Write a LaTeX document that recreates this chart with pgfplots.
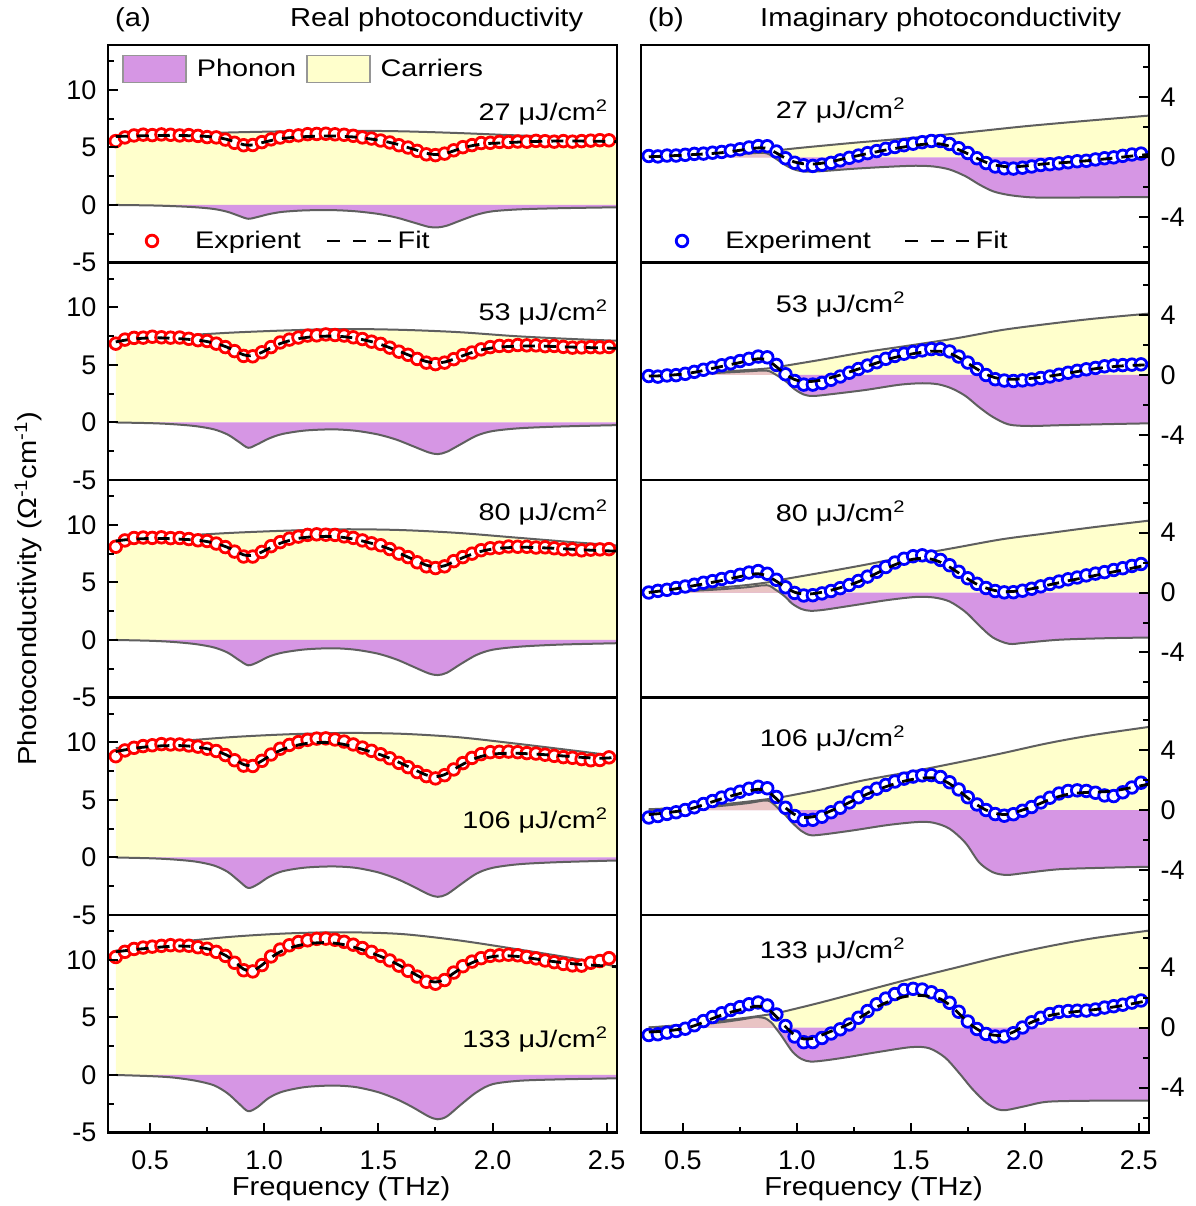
\documentclass[border=0pt]{standalone}
\usepackage{fontspec}
\setmainfont{Liberation Sans}
\newfontfamily\labfam{Liberation Sans}[FakeStretch=1.12]
\newfontfamily\annfam{Liberation Sans}[FakeStretch=1.2]
\usepackage{pgfplots}
\usepackage{pgfplotstable}
\pgfplotsset{compat=1.18}

\definecolor{purp}{RGB}{214,150,228}
\definecolor{yel}{RGB}{255,255,204}
\definecolor{pinkc}{RGB}{233,196,196}
\definecolor{lgray}{RGB}{95,95,95}
\definecolor{leggray}{RGB}{150,150,150}

\newcommand{\tickfont}{\fontsize{27}{30}\selectfont}
\newcommand{\labfont}{\labfam\fontsize{26}{30}\selectfont}
\newcommand{\annfont}{\annfam\fontsize{24}{27}\selectfont}

% ---------- left column (real part) ----------
\pgfplotstableread{
x y
0.35 5.95
0.60 6.15
0.85 6.30
1.10 6.40
1.35 6.45
1.60 6.40
1.85 6.25
2.10 6.05
2.35 5.85
2.55 5.70
}\LCa
\pgfplotstableread{
x y
0.35 7.20
0.60 7.50
0.85 7.80
1.10 8.00
1.35 8.12
1.60 8.05
1.85 7.85
2.10 7.50
2.35 7.25
2.55 7.10
}\LCb
\pgfplotstableread{
x y
0.35 8.60
0.60 9.00
0.85 9.30
1.10 9.50
1.35 9.62
1.60 9.55
1.85 9.30
2.10 8.90
2.35 8.50
2.55 8.20
}\LCc
\pgfplotstableread{
x y
0.35 9.50
0.60 10.05
0.85 10.45
1.10 10.70
1.35 10.82
1.60 10.75
1.85 10.45
2.10 9.90
2.35 9.30
2.55 8.80
}\LCd
\pgfplotstableread{
x y
0.35 10.80
0.60 11.50
0.85 12.00
1.10 12.30
1.35 12.40
1.60 12.25
1.85 11.70
2.10 10.95
2.35 10.15
2.55 9.40
}\LCe

\pgfplotstableread{
x a b c d e
0.35 0 0 0 0 0
0.50 -0.04 -0.06 -0.07 -0.07 -0.10
0.60 -0.10 -0.15 -0.17 -0.17 -0.22
0.70 -0.20 -0.32 -0.36 -0.36 -0.50
0.78 -0.35 -0.60 -0.65 -0.70 -0.90
0.84 -0.60 -1.05 -1.10 -1.25 -1.60
0.89 -0.95 -1.70 -1.75 -2.05 -2.50
0.93 -1.20 -2.20 -2.20 -2.65 -3.15
0.97 -1.05 -1.90 -1.95 -2.35 -2.80
1.02 -0.80 -1.40 -1.45 -1.70 -2.00
1.08 -0.60 -1.00 -1.10 -1.20 -1.45
1.18 -0.47 -0.70 -0.82 -0.88 -1.05
1.30 -0.45 -0.60 -0.72 -0.78 -0.92
1.40 -0.55 -0.72 -0.85 -0.90 -1.05
1.50 -0.78 -1.05 -1.20 -1.30 -1.50
1.58 -1.10 -1.50 -1.70 -1.85 -2.10
1.65 -1.50 -2.05 -2.30 -2.50 -2.80
1.72 -1.90 -2.60 -2.90 -3.20 -3.60
1.76 -1.95 -2.75 -3.05 -3.42 -3.85
1.80 -1.80 -2.55 -2.85 -3.20 -3.60
1.86 -1.35 -1.90 -2.10 -2.35 -2.60
1.93 -0.85 -1.15 -1.30 -1.40 -1.50
2.00 -0.55 -0.75 -0.85 -0.90 -0.80
2.12 -0.38 -0.50 -0.58 -0.58 -0.50
2.30 -0.28 -0.35 -0.40 -0.40 -0.38
2.55 -0.20 -0.23 -0.28 -0.26 -0.29
}\LP

\pgfplotstableread{
x Fa Ea Fb Eb Fc Ec Fd Ed Fe Ee
0.35 5.95 5.55 7.00 6.85 8.60 8.10 9.20 8.80 10.70 10.25
0.39 5.97 5.87 7.15 7.20 8.70 8.65 9.35 9.30 10.80 10.70
0.43 5.99 6.04 7.25 7.35 8.76 8.86 9.48 9.53 10.90 10.95
0.47 6.01 6.11 7.32 7.37 8.80 8.90 9.58 9.68 10.97 11.07
0.51 6.02 6.07 7.35 7.45 8.82 8.87 9.65 9.75 11.05 11.15
0.55 6.03 6.13 7.35 7.40 8.82 8.92 9.70 9.85 11.12 11.22
0.59 6.05 6.10 7.32 7.37 8.80 8.85 9.72 9.82 11.18 11.28
0.63 6.04 6.04 7.28 7.38 8.76 8.86 9.72 9.82 11.20 11.25
0.67 6.02 6.07 7.22 7.27 8.72 8.77 9.68 9.73 11.18 11.23
0.71 6.00 6.00 7.15 7.15 8.66 8.66 9.58 9.63 11.10 11.10
0.75 5.95 5.90 7.03 7.08 8.55 8.60 9.45 9.45 10.97 10.97
0.79 5.87 5.87 6.85 6.85 8.38 8.38 9.25 9.25 10.75 10.70
0.83 5.73 5.68 6.60 6.55 8.12 8.07 8.95 8.90 10.40 10.35
0.87 5.50 5.40 6.25 6.20 7.78 7.68 8.55 8.45 9.85 9.75
0.91 5.24 5.19 5.88 5.78 7.40 7.25 8.08 7.98 9.20 9.10
0.95 5.21 5.21 5.80 5.75 7.35 7.25 8.00 7.95 9.05 9.00
0.99 5.41 5.46 6.10 6.10 7.65 7.65 8.40 8.40 9.55 9.55
1.03 5.60 5.70 6.50 6.55 8.05 8.15 8.90 8.95 10.20 10.30
1.07 5.76 5.86 6.85 6.95 8.40 8.50 9.30 9.45 10.70 10.90
1.11 5.84 5.99 7.10 7.20 8.65 8.80 9.58 9.78 11.02 11.27
1.15 5.90 6.05 7.28 7.38 8.83 8.98 9.78 10.03 11.25 11.55
1.19 5.95 6.15 7.40 7.55 8.93 9.13 9.92 10.22 11.40 11.70
1.23 5.97 6.17 7.47 7.57 8.98 9.18 9.98 10.33 11.48 11.83
1.27 5.99 6.19 7.50 7.65 9.00 9.15 10.00 10.35 11.50 11.85
1.31 5.99 6.14 7.50 7.60 8.98 9.13 9.95 10.25 11.45 11.75
1.35 5.95 6.10 7.45 7.55 8.90 9.00 9.82 10.07 11.32 11.57
1.39 5.91 6.01 7.35 7.40 8.77 8.87 9.62 9.82 11.12 11.32
1.43 5.82 5.87 7.20 7.25 8.60 8.65 9.40 9.55 10.88 11.03
1.47 5.72 5.77 7.02 7.02 8.40 8.40 9.17 9.27 10.60 10.70
1.51 5.60 5.60 6.78 6.83 8.18 8.23 8.92 8.97 10.30 10.35
1.55 5.43 5.43 6.50 6.50 7.90 7.90 8.62 8.62 9.95 9.95
1.59 5.24 5.19 6.20 6.15 7.55 7.50 8.27 8.22 9.55 9.50
1.63 4.99 4.99 5.88 5.88 7.20 7.20 7.90 7.85 9.10 9.05
1.67 4.75 4.70 5.57 5.52 6.85 6.75 7.52 7.42 8.65 8.55
1.71 4.50 4.40 5.30 5.20 6.50 6.40 7.17 7.07 8.25 8.10
1.75 4.38 4.33 5.17 5.07 6.35 6.25 7.02 6.87 8.08 7.93
1.79 4.46 4.46 5.25 5.20 6.45 6.40 7.20 7.15 8.30 8.25
1.83 4.70 4.75 5.50 5.50 6.80 6.85 7.65 7.65 8.85 8.90
1.87 4.97 5.02 5.80 5.85 7.15 7.20 8.10 8.20 9.35 9.45
1.91 5.15 5.20 6.08 6.08 7.45 7.50 8.50 8.65 9.75 9.85
1.95 5.28 5.38 6.30 6.35 7.70 7.80 8.78 8.98 10.05 10.15
1.99 5.35 5.40 6.45 6.55 7.87 7.97 8.95 9.15 10.25 10.35
2.03 5.38 5.48 6.55 6.65 7.97 8.02 9.03 9.18 10.35 10.40
2.07 5.42 5.47 6.60 6.65 8.02 8.12 9.05 9.20 10.35 10.45
2.11 5.46 5.51 6.63 6.73 8.05 8.10 9.05 9.15 10.30 10.40
2.15 5.50 5.50 6.65 6.70 8.05 8.10 9.02 9.07 10.20 10.25
2.19 5.52 5.57 6.65 6.70 8.03 8.03 8.98 9.03 10.08 10.13
2.23 5.54 5.54 6.63 6.63 8.00 8.05 8.93 8.93 9.95 9.95
2.27 5.55 5.50 6.60 6.65 7.97 7.97 8.88 8.83 9.85 9.80
2.31 5.55 5.55 6.57 6.57 7.93 7.88 8.82 8.72 9.75 9.65
2.35 5.55 5.50 6.55 6.50 7.88 7.88 8.76 8.66 9.67 9.52
2.39 5.55 5.55 6.52 6.52 7.84 7.79 8.70 8.55 9.60 9.50
2.43 5.54 5.59 6.50 6.55 7.80 7.85 8.65 8.45 9.55 9.75
2.47 5.53 5.63 6.48 6.53 7.77 7.87 8.62 8.47 9.50 9.90
2.51 5.52 5.62 6.46 6.56 7.74 7.89 8.65 8.70 9.45 10.15
2.55 5.50 5.65 6.45 6.55 7.72 7.92 8.75 9.20 9.40 10.50
}\LF

% ---------- right column (imaginary part) ----------
\pgfplotstableread{
x y
0.35 0.00
0.50 0.10
0.70 0.24
0.85 0.37
1.00 0.62
1.25 0.98
1.50 1.30
1.75 1.68
2.00 2.08
2.25 2.42
2.55 2.80
}\RCa
\pgfplotstableread{
x y
0.35 0.00
0.55 0.12
0.75 0.30
0.88 0.45
0.95 0.62
1.10 1.00
1.30 1.53
1.50 1.98
1.70 2.45
1.90 3.00
2.10 3.40
2.30 3.75
2.55 4.10
}\RCb
\pgfplotstableread{
x y
0.35 0.00
0.55 0.20
0.75 0.45
0.87 0.67
0.93 0.85
1.10 1.30
1.30 1.85
1.50 2.45
1.70 3.00
1.90 3.55
2.10 3.95
2.30 4.35
2.55 4.80
}\RCc
\pgfplotstableread{
x y
0.35 0.05
0.55 0.20
0.75 0.50
0.87 0.72
0.93 0.85
1.10 1.35
1.30 2.00
1.50 2.55
1.70 3.15
1.90 3.78
2.10 4.45
2.30 5.00
2.55 5.55
}\RCd
\pgfplotstableread{
x y
0.35 0.00
0.55 0.25
0.75 0.60
0.87 0.85
0.93 1.02
1.10 1.65
1.30 2.45
1.50 3.25
1.70 4.00
1.90 4.75
2.10 5.40
2.30 5.95
2.55 6.47
}\RCe

\pgfplotstableread{
x y
0.35 0.00
0.50 0.06
0.65 0.14
0.75 0.22
0.82 0.30
0.86 0.30
0.88 0.20
0.90 0.00
0.92 -0.20
0.96 -0.60
1.00 -0.85
1.05 -0.95
1.12 -0.90
1.25 -0.75
1.40 -0.62
1.52 -0.55
1.60 -0.60
1.67 -0.80
1.74 -1.25
1.80 -1.80
1.86 -2.25
1.93 -2.50
2.02 -2.65
2.12 -2.68
2.30 -2.66
2.55 -2.64
}\RPa
\pgfplotstableread{
x y
0.35 0.00
0.50 0.05
0.65 0.14
0.78 0.24
0.85 0.30
0.88 0.25
0.91 0.00
0.95 -0.40
0.99 -0.95
1.03 -1.30
1.07 -1.40
1.15 -1.28
1.30 -1.00
1.45 -0.65
1.55 -0.55
1.62 -0.62
1.68 -0.90
1.74 -1.40
1.80 -2.15
1.86 -2.80
1.93 -3.30
2.02 -3.40
2.15 -3.35
2.35 -3.28
2.55 -3.22
}\RPb
\pgfplotstableread{
x y
0.35 0.00
0.50 0.08
0.65 0.20
0.78 0.35
0.85 0.48
0.88 0.45
0.905 0.20
0.925 0.00
0.95 -0.30
0.98 -0.75
1.02 -1.10
1.06 -1.22
1.12 -1.15
1.25 -0.85
1.40 -0.50
1.52 -0.30
1.60 -0.33
1.67 -0.60
1.74 -1.30
1.80 -2.20
1.86 -3.00
1.93 -3.42
2.00 -3.35
2.15 -3.15
2.35 -3.05
2.55 -3.00
}\RPc
\pgfplotstableread{
x y
0.35 0.00
0.50 0.10
0.65 0.25
0.78 0.45
0.85 0.62
0.88 0.60
0.905 0.30
0.925 0.00
0.95 -0.35
0.98 -0.85
1.02 -1.40
1.06 -1.68
1.12 -1.62
1.25 -1.35
1.40 -1.00
1.53 -0.80
1.60 -0.85
1.67 -1.25
1.74 -2.20
1.80 -3.50
1.86 -4.15
1.92 -4.33
2.00 -4.20
2.15 -3.95
2.35 -3.85
2.55 -3.78
}\RPd
\pgfplotstableread{
x y
0.35 0.00
0.50 0.12
0.65 0.32
0.75 0.52
0.82 0.69
0.86 0.62
0.89 0.30
0.905 0.00
0.93 -0.50
0.98 -1.60
1.02 -2.10
1.06 -2.27
1.12 -2.20
1.22 -1.98
1.35 -1.65
1.50 -1.31
1.58 -1.38
1.65 -2.00
1.71 -3.00
1.77 -4.10
1.83 -5.00
1.88 -5.45
1.92 -5.50
2.00 -5.25
2.10 -4.95
2.30 -4.88
2.55 -4.87
}\RPe

\pgfplotstableread{
x Fa Ea Fb Eb Fc Ec Fd Ed Fe Ee
0.35 0.05 0.10 -0.07 -0.07 0.00 0.00 -0.30 -0.50 -0.30 -0.50
0.39 0.07 0.07 -0.06 -0.11 0.08 0.11 -0.25 -0.40 -0.27 -0.45
0.43 0.10 0.13 -0.03 -0.03 0.16 0.18 -0.18 -0.26 -0.22 -0.34
0.47 0.13 0.13 0.02 -0.01 0.25 0.30 -0.10 -0.15 -0.15 -0.23
0.51 0.16 0.18 0.08 0.08 0.35 0.40 0.00 0.00 -0.05 -0.08
0.55 0.20 0.24 0.18 0.21 0.46 0.52 0.15 0.18 0.12 0.15
0.59 0.23 0.26 0.30 0.35 0.57 0.65 0.35 0.40 0.35 0.43
0.63 0.27 0.32 0.44 0.49 0.68 0.76 0.55 0.60 0.60 0.70
0.67 0.32 0.37 0.57 0.65 0.80 0.90 0.75 0.83 0.83 0.95
0.71 0.40 0.46 0.70 0.78 0.93 1.03 0.93 1.03 1.02 1.17
0.75 0.48 0.55 0.83 0.93 1.06 1.18 1.10 1.22 1.18 1.36
0.79 0.57 0.67 0.96 1.08 1.18 1.33 1.27 1.42 1.33 1.55
0.83 0.64 0.76 1.08 1.23 1.25 1.43 1.38 1.55 1.42 1.67
0.87 0.60 0.75 1.00 1.18 1.10 1.25 1.25 1.45 1.25 1.47
0.91 0.30 0.40 0.55 0.67 0.75 0.85 0.75 0.87 0.72 0.87
0.95 -0.05 -0.05 0.05 0.05 0.35 0.35 0.15 0.15 0.05 0.10
0.99 -0.30 -0.35 -0.30 -0.40 0.02 -0.03 -0.30 -0.40 -0.50 -0.60
1.03 -0.42 -0.52 -0.44 -0.64 -0.10 -0.20 -0.50 -0.67 -0.76 -0.98
1.07 -0.44 -0.56 -0.42 -0.64 -0.08 -0.18 -0.45 -0.65 -0.72 -0.97
1.11 -0.38 -0.48 -0.33 -0.53 0.02 -0.06 -0.30 -0.45 -0.50 -0.70
1.15 -0.28 -0.36 -0.17 -0.32 0.15 0.10 -0.05 -0.15 -0.25 -0.40
1.19 -0.14 -0.19 0.00 -0.10 0.32 0.29 0.20 0.15 -0.02 -0.12
1.23 0.00 -0.02 0.20 0.15 0.50 0.50 0.50 0.50 0.25 0.20
1.27 0.13 0.13 0.40 0.40 0.72 0.77 0.80 0.85 0.60 0.65
1.31 0.26 0.29 0.60 0.63 0.98 1.06 1.07 1.15 0.98 1.10
1.35 0.38 0.43 0.80 0.85 1.28 1.38 1.32 1.42 1.35 1.55
1.39 0.50 0.58 1.00 1.08 1.58 1.70 1.55 1.67 1.65 1.93
1.43 0.60 0.70 1.17 1.27 1.85 2.00 1.75 1.90 1.88 2.23
1.47 0.70 0.82 1.30 1.42 2.07 2.25 1.92 2.09 2.05 2.50
1.51 0.80 0.92 1.42 1.54 2.22 2.42 2.05 2.23 2.13 2.58
1.55 0.87 1.02 1.52 1.64 2.28 2.48 2.13 2.31 2.13 2.53
1.59 0.92 1.10 1.58 1.73 2.22 2.40 2.15 2.33 2.05 2.35
1.63 0.90 1.10 1.58 1.73 2.02 2.17 2.05 2.20 1.90 2.10
1.67 0.75 0.90 1.45 1.57 1.70 1.82 1.75 1.85 1.50 1.65
1.71 0.52 0.62 1.15 1.23 1.30 1.38 1.30 1.37 0.95 1.05
1.75 0.25 0.30 0.78 0.83 0.90 0.95 0.80 0.85 0.35 0.40
1.79 -0.05 -0.05 0.40 0.40 0.55 0.58 0.35 0.37 -0.10 -0.10
1.83 -0.32 -0.37 0.05 0.00 0.30 0.30 0.00 0.00 -0.40 -0.43
1.87 -0.50 -0.60 -0.18 -0.28 0.13 0.10 -0.22 -0.27 -0.52 -0.60
1.91 -0.60 -0.72 -0.27 -0.37 0.06 0.01 -0.30 -0.38 -0.50 -0.60
1.95 -0.62 -0.74 -0.28 -0.40 0.07 0.02 -0.20 -0.28 -0.30 -0.38
1.99 -0.58 -0.68 -0.26 -0.36 0.15 0.12 0.00 -0.05 0.05 0.00
2.03 -0.52 -0.60 -0.22 -0.30 0.25 0.25 0.20 0.20 0.35 0.35
2.07 -0.45 -0.50 -0.15 -0.20 0.38 0.41 0.45 0.50 0.60 0.65
2.11 -0.40 -0.45 -0.07 -0.10 0.52 0.57 0.70 0.82 0.80 0.90
2.15 -0.36 -0.39 0.02 0.02 0.65 0.73 0.90 1.10 0.92 1.04
2.19 -0.32 -0.32 0.12 0.15 0.78 0.88 1.05 1.27 1.00 1.10
2.23 -0.27 -0.25 0.23 0.28 0.90 1.00 1.13 1.31 1.07 1.12
2.27 -0.22 -0.22 0.33 0.38 1.02 1.14 1.17 1.27 1.13 1.13
2.31 -0.16 -0.13 0.42 0.47 1.14 1.26 1.20 1.15 1.20 1.20
2.35 -0.10 -0.05 0.50 0.58 1.26 1.36 1.22 0.97 1.28 1.33
2.39 -0.04 0.01 0.56 0.64 1.38 1.50 1.28 0.93 1.37 1.42
2.43 0.03 0.11 0.61 0.66 1.50 1.62 1.38 1.18 1.47 1.52
2.47 0.10 0.20 0.64 0.69 1.62 1.77 1.50 1.50 1.58 1.66
2.51 0.16 0.26 0.66 0.71 1.75 1.90 1.62 1.82 1.70 1.80
2.55 0.20 0.32 0.67 0.72 1.88 2.08 1.75 2.10 1.82 1.97
}\RF

\pgfplotsset{
  panel/.style={
    scale only axis, height=217.5pt, xmin=0.316, xmax=2.545,
    axis on top, clip marker paths=true,
    axis line style={line width=2.6pt},
    every tick/.style={black, line width=2pt},
    tick align=inside, major tick length=10pt, minor tick length=6pt,
    xtick=\empty,
    tick label style={font=\tickfont},
  },
  lcol/.style={panel, width=509pt, ymin=-5, ymax=13.9,
    ytick={-5,0,5,10}, yticklabels={-5,0,5,10},
    minor ytick={-2.5,2.5,7.5,12.5}, ytick pos=left,
    yticklabel style={xshift=-8pt}},
  rcol/.style={panel, width=508pt, ymin=-7, ymax=7.5,
    ytick={-4,0,4}, yticklabels={-4,0,4},
    minor ytick={-6,-2,2,6}, ytick pos=right, yticklabel pos=right,
    yticklabel style={xshift=8pt}},
  brow/.style={xtick={0.5,1,1.5,2,2.5}, xticklabels={0.5,1.0,1.5,2.0,2.5},
    minor xtick={0.75,1.25,1.75,2.25}, xtick pos=bottom,
    xticklabel style={yshift=-15pt},
    xlabel={Frequency (THz)},
    xlabel style={font=\labfont, at={(axis description cs:0.458,0)}, anchor=center, yshift=-56pt}},
  carfill/.style={fill=yel, draw=none, smooth, forget plot},
  phofill/.style={fill=purp, draw=none, smooth, forget plot},
  grayline/.style={lgray, line width=2pt, smooth, forget plot},
  fitline/.style={black, line width=2.8pt, dash pattern=on 12pt off 9pt, smooth, forget plot},
  expmark/.style={only marks, mark=*, mark size=5.8pt,
    mark options={draw=#1, fill=white, line width=2.8pt, solid}, forget plot},
  legaxis/.style={scale only axis, height=217.5pt, hide axis,
    xmin=0, xmax=1, ymin=0, ymax=1, anchor=north west},
  boxleg/.style={legend image code/.code={\draw[##1] (0pt,-13.5pt) rectangle (63pt,13.5pt); \path (73pt,0pt);}},
  circleg/.style={legend image code/.code={\draw[##1] plot coordinates {(0pt,0pt)}; \path (43pt,0pt);}},
  dashleg/.style={legend image code/.code={\draw[##1] (0pt,0pt) -- (64pt,0pt); \path (69pt,0pt);}},
}

% args: top y, carrier table, phonon column, fit/exp suffix, label, label rel y, extra options
\newcommand{\lpanel}[7]{%
  \begin{axis}[lcol, at={(108pt,#1)}, anchor=north west, #7]
    \addplot[carfill] table {#2} \closedcycle;
    \addplot[phofill] table[x=x, y=#3] {\LP} \closedcycle;
    \addplot[grayline] table {#2};
    \addplot[grayline] table[x=x, y=#3] {\LP};
    \addplot[expmark=red] table[x=x, y=E#4] {\LF};
    \addplot[fitline] table[x=x, y=F#4] {\LF};
    \node[anchor=east, inner sep=0pt, font=\annfont] at (rel axis cs:0.982,#6) {#5};
  \end{axis}}

% args: top y, carrier table, phonon table, fit/exp suffix, label, label rel y, pink limit, extra options
\newcommand{\rpanel}[8]{%
  \begin{axis}[rcol, at={(641pt,#1)}, anchor=north west, #8]
    \addplot[carfill] table {#2} \closedcycle;
    \addplot[phofill] table {#3} \closedcycle;
    \addplot[fill=pinkc, draw=none, smooth, forget plot, restrict x to domain=0.3:#7] table {#3} \closedcycle;
    \addplot[grayline] table {#2};
    \addplot[grayline] table {#3};
    \addplot[expmark=blue] table[x=x, y=E#4] {\RF};
    \addplot[fitline] table[x=x, y=F#4] {\RF};
    \node[anchor=east, inner sep=0pt, font=\annfont] at (rel axis cs:0.52,#6) {#5};
  \end{axis}}

\begin{document}
\begin{tikzpicture}
\useasboundingbox (0,0) rectangle (1195pt,-1206pt);

\lpanel{-45pt}{\LCa}{a}{a}{27 μJ/cm\textsuperscript{2}}{0.692}{}
\lpanel{-262.5pt}{\LCb}{b}{b}{53 μJ/cm\textsuperscript{2}}{0.77}{}
\lpanel{-480pt}{\LCc}{c}{c}{80 μJ/cm\textsuperscript{2}}{0.853}{}
\lpanel{-697.5pt}{\LCd}{d}{d}{106 μJ/cm\textsuperscript{2}}{0.437}{}
\lpanel{-915pt}{\LCe}{e}{e}{133 μJ/cm\textsuperscript{2}}{0.43}{brow}

\rpanel{-45pt}{\RCa}{\RPa}{a}{27 μJ/cm\textsuperscript{2}}{0.697}{0.901}{}
\rpanel{-262.5pt}{\RCb}{\RPb}{b}{53 μJ/cm\textsuperscript{2}}{0.805}{0.911}{}
\rpanel{-480pt}{\RCc}{\RPc}{c}{80 μJ/cm\textsuperscript{2}}{0.848}{0.926}{}
\rpanel{-697.5pt}{\RCd}{\RPd}{d}{106 μJ/cm\textsuperscript{2}}{0.814}{0.926}{}
\rpanel{-915pt}{\RCe}{\RPe}{e}{133 μJ/cm\textsuperscript{2}}{0.839}{0.906}{brow}

% legends
\begin{axis}[legaxis, width=509pt, at={(108pt,-45pt)}, legend columns=2,
  legend style={draw=none, fill=none, inner sep=0pt, font=\annfont,
    at={(0.0275,0.89)}, anchor=west, nodes={inner sep=0pt},
    /tikz/every even column/.append style={column sep=10pt}}]
  \addlegendimage{boxleg, fill=purp, draw=leggray, line width=1.6pt}
  \addlegendentry{Phonon}
  \addlegendimage{boxleg, fill=yel, draw=leggray, line width=1.6pt}
  \addlegendentry{Carriers}
\end{axis}
\begin{axis}[legaxis, width=509pt, at={(108pt,-45pt)}, legend columns=2,
  legend style={draw=none, fill=none, inner sep=0pt, font=\annfont,
    at={(0.0747,0.099)}, anchor=west, nodes={inner sep=0pt},
    /tikz/every even column/.append style={column sep=25pt}}]
  \addlegendimage{circleg, only marks, mark=*, mark size=5.8pt, mark options={draw=red, fill=white, line width=2.8pt}}
  \addlegendentry{Exprient}
  \addlegendimage{dashleg, black, line width=2.8pt, dash pattern=on 13pt off 12.5pt}
  \addlegendentry{Fit}
\end{axis}
\begin{axis}[legaxis, width=508pt, at={(641pt,-45pt)}, legend columns=2,
  legend style={draw=none, fill=none, inner sep=0pt, font=\annfont,
    at={(0.069,0.099)}, anchor=west, nodes={inner sep=0pt},
    /tikz/every even column/.append style={column sep=33pt}}]
  \addlegendimage{circleg, only marks, mark=*, mark size=5.8pt, mark options={draw=blue, fill=white, line width=2.8pt}}
  \addlegendentry{Experiment}
  \addlegendimage{dashleg, black, line width=2.8pt, dash pattern=on 13pt off 12.5pt}
  \addlegendentry{Fit}
\end{axis}

% titles and common y label
\node[anchor=base west, font=\labfont, inner sep=0pt] at (115pt,-27pt) {(a)};
\node[anchor=base west, font=\labfont, inner sep=0pt] at (290pt,-27pt) {Real photoconductivity};
\node[anchor=base west, font=\labfont, inner sep=0pt] at (648pt,-27pt) {(b)};
\node[anchor=base west, font=\labfont, inner sep=0pt] at (760pt,-27pt) {Imaginary photoconductivity};
\node[rotate=90, font=\labfont, inner sep=0pt] at (28pt,-589pt) {Photoconductivity (Ω\textsuperscript{-1}cm\textsuperscript{-1})};
\end{tikzpicture}
\end{document}
